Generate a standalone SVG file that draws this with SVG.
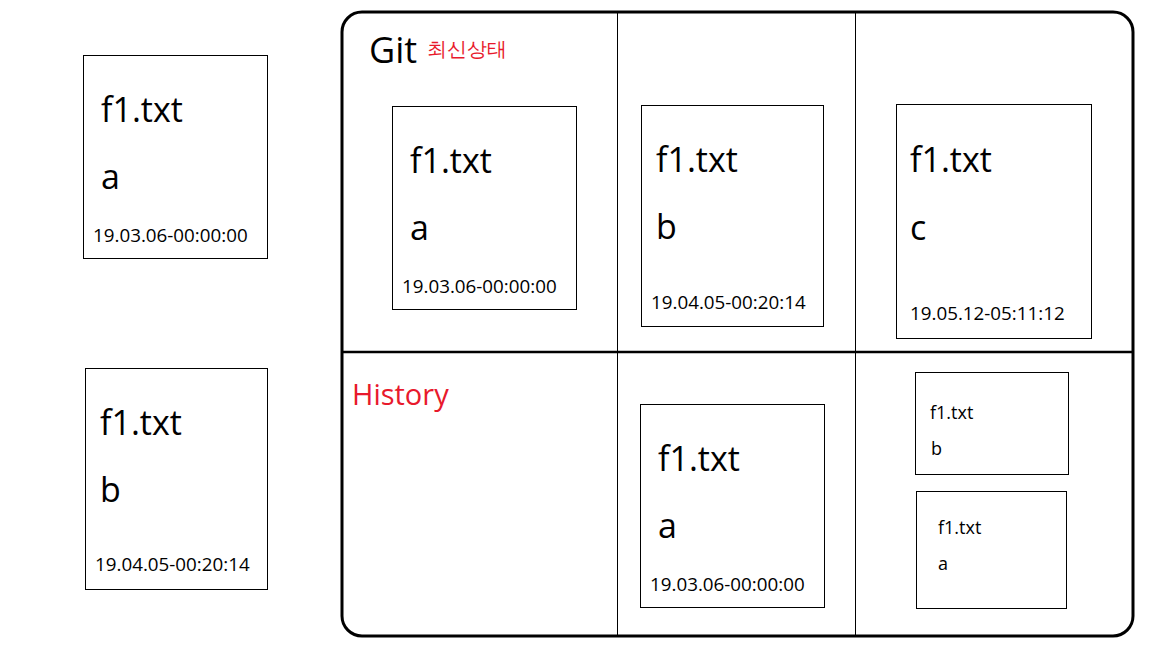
<svg xmlns="http://www.w3.org/2000/svg" width="1152" height="648" viewBox="0 0 1152 648">
<style>
.box{fill:#fff;stroke:#000;stroke-width:1}
.t{font-family:"Open Sans","Noto Sans","DejaVu Sans",sans-serif;fill:#000}
.big{font-size:34px}
.mid{font-size:18.8px}
.sm{font-size:18px}
.red{fill:#e8192c}
</style>
<rect width="1152" height="648" fill="#fff"/>
<g id="frame">
<rect x="342" y="12" width="791" height="624" rx="20" ry="20" fill="#fff" stroke="#000" stroke-width="3"/>
</g>
<g id="connectors">
<line x1="617.5" y1="12" x2="617.5" y2="636" stroke="#000" stroke-width="1"/>
<line x1="855.5" y1="12" x2="855.5" y2="636" stroke="#000" stroke-width="1"/>
<line x1="342" y1="352" x2="1133" y2="352" stroke="#000" stroke-width="2.5"/>
</g>
<g id="title">
<text class="t" x="369" y="63" font-size="36">Git</text>
<text class="t red" x="427" y="56" font-size="20" font-family="'Noto Sans CJK KR',sans-serif">최신상태</text>
<text class="t red" x="352" y="405" font-size="29">History</text>
</g>
<g id="local-a">
<rect class="box" x="83.500" y="55.500" width="184" height="203"/>
<text class="t big" x="101" y="122">f1.txt</text>
<text class="t big" x="101" y="189">a</text>
<text class="t mid" x="93" y="242">19.03.06-00:00:00</text>
</g>
<g id="local-b">
<rect class="box" x="85.500" y="368.500" width="182" height="221"/>
<text class="t big" x="100" y="435">f1.txt</text>
<text class="t big" x="100" y="502">b</text>
<text class="t mid" x="95" y="571">19.04.05-00:20:14</text>
</g>
<g id="git-a">
<rect class="box" x="392.500" y="106.500" width="184" height="203"/>
<text class="t big" x="410" y="173">f1.txt</text>
<text class="t big" x="410" y="240">a</text>
<text class="t mid" x="402" y="293">19.03.06-00:00:00</text>
</g>
<g id="git-b">
<rect class="box" x="641.500" y="105.500" width="182" height="221"/>
<text class="t big" x="656" y="172">f1.txt</text>
<text class="t big" x="656" y="239">b</text>
<text class="t mid" x="651" y="309">19.04.05-00:20:14</text>
</g>
<g id="git-c">
<rect class="box" x="896.500" y="104.500" width="195" height="234"/>
<text class="t big" x="910" y="172">f1.txt</text>
<text class="t big" x="910" y="240">c</text>
<text class="t mid" x="910" y="320">19.05.12-05:11:12</text>
</g>
<g id="hist-a">
<rect class="box" x="640.500" y="404.500" width="184" height="203"/>
<text class="t big" x="658" y="471">f1.txt</text>
<text class="t big" x="658" y="538">a</text>
<text class="t mid" x="650" y="591">19.03.06-00:00:00</text>
</g>
<g id="hist-b">
<rect class="box" x="915.500" y="372.500" width="153" height="102"/>
<text class="t sm" x="930" y="419">f1.txt</text>
<text class="t sm" x="931" y="455">b</text>
</g>
<g id="hist-a2">
<rect class="box" x="916.500" y="491.500" width="150" height="117"/>
<text class="t sm" x="938" y="534">f1.txt</text>
<text class="t sm" x="938" y="570">a</text>
</g>
</svg>
